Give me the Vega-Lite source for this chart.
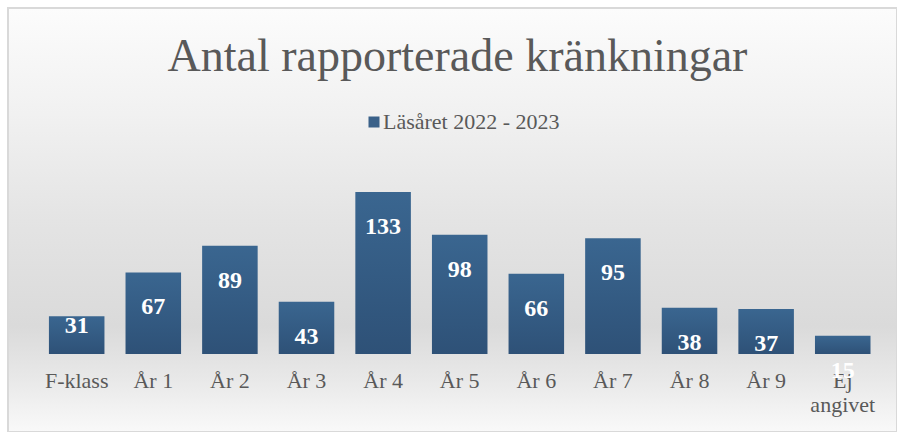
{
  "$schema": "https://vega.github.io/schema/vega-lite/v6.json",
  "autosize": {"type": "none"},
  "width": 889,
  "height": 424,
  "padding": {"left": 8, "top": 8, "right": 0, "bottom": 0},
  "background": "#ffffff",
  "view": {
    "stroke": "#d9d9d9",
    "strokeWidth": 2,
    "fill": {
      "gradient": "linear",
      "x1": 0, "y1": 0, "x2": 0, "y2": 1,
      "stops": [
        {"offset": 0, "color": "#fcfcfc"},
        {"offset": 0.25, "color": "#f1f1f1"},
        {"offset": 0.5, "color": "#e4e4e4"},
        {"offset": 0.75, "color": "#dadada"},
        {"offset": 0.88, "color": "#e9e9e9"},
        {"offset": 1, "color": "#f9f9f9"}
      ]
    }
  },
  "title": {
    "text": "Antal rapporterade kränkningar",
    "font": "Liberation Serif, DejaVu Serif, serif",
    "fontSize": 46,
    "fontWeight": "normal",
    "color": "#595959",
    "anchor": "middle",
    "baseline": "alphabetic",
    "offset": -44,
    "dy": 65,
    "dx": 5
  },
  "data": {
    "values": [
      {"klass": "F-klass", "antal": 31, "serie": "Läsåret 2022 - 2023"},
      {"klass": "År 1", "antal": 67, "serie": "Läsåret 2022 - 2023"},
      {"klass": "År 2", "antal": 89, "serie": "Läsåret 2022 - 2023"},
      {"klass": "År 3", "antal": 43, "serie": "Läsåret 2022 - 2023"},
      {"klass": "År 4", "antal": 133, "serie": "Läsåret 2022 - 2023"},
      {"klass": "År 5", "antal": 98, "serie": "Läsåret 2022 - 2023"},
      {"klass": "År 6", "antal": 66, "serie": "Läsåret 2022 - 2023"},
      {"klass": "År 7", "antal": 95, "serie": "Läsåret 2022 - 2023"},
      {"klass": "År 8", "antal": 38, "serie": "Läsåret 2022 - 2023"},
      {"klass": "År 9", "antal": 37, "serie": "Läsåret 2022 - 2023"},
      {"klass": "Ej angivet", "antal": 15, "serie": "Läsåret 2022 - 2023"}
    ]
  },
  "encoding": {
    "x": {
      "field": "klass",
      "type": "nominal",
      "sort": null,
      "scale": {"paddingInner": 0.275, "paddingOuter": 0.44, "align": 0.607},
      "axis": {
        "title": null,
        "orient": "bottom",
        "offset": -78,
        "domain": false,
        "ticks": false,
        "labelAngle": 0,
        "labelFont": "Liberation Serif, DejaVu Serif, serif",
        "labelFontSize": 22,
        "labelColor": "#595959",
        "labelPadding": 16,
        "labelLineHeight": 24,
        "labelExpr": "datum.value == 'Ej angivet' ? ['Ej', 'angivet'] : datum.value"
      }
    },
    "y": {
      "field": "antal",
      "type": "quantitative",
      "scale": {"domain": [-64, 284.1], "zero": false, "nice": false},
      "axis": null
    }
  },
  "layer": [
    {
      "mark": {
        "type": "bar",
        "color": {
          "gradient": "linear",
          "x1": 0, "y1": 0, "x2": 0, "y2": 1,
          "stops": [
            {"offset": 0, "color": "#3a6690"},
            {"offset": 1, "color": "#2e5177"}
          ]
        }
      },
      "encoding": {
        "y2": {"datum": 0}
      }
    },
    {
      "mark": {"type": "point", "shape": "square", "filled": true, "opacity": 0},
      "encoding": {
        "color": {
          "field": "serie",
          "type": "nominal",
          "scale": {"range": ["#3a6189"]},
          "legend": {
            "title": null,
            "orient": "none",
            "legendX": 355,
            "legendY": 103,
            "padding": 0,
            "symbolType": "square",
            "symbolSize": 121,
            "symbolStrokeWidth": 0,
            "labelFont": "Liberation Serif, DejaVu Serif, serif",
            "labelFontSize": 22,
            "labelColor": "#595959",
            "labelOffset": -2,
            "labelLimit": 400,
            "encode": {
              "symbols": {"update": {"fill": {"value": "#3a6189"}, "opacity": {"value": 1}}}
            }
          }
        }
      }
    },
    {
      "transform": [{"filter": "datum.klass != 'F-klass'"}],
      "mark": {
        "type": "text",
        "font": "Liberation Serif, DejaVu Serif, serif",
        "fontSize": 24,
        "fontWeight": "bold",
        "color": "#ffffff",
        "baseline": "middle",
        "dy": 35
      },
      "encoding": {"text": {"field": "antal", "type": "quantitative"}}
    },
    {
      "transform": [{"filter": "datum.klass == 'F-klass'"}],
      "mark": {
        "type": "text",
        "font": "Liberation Serif, DejaVu Serif, serif",
        "fontSize": 24,
        "fontWeight": "bold",
        "color": "#ffffff",
        "baseline": "middle",
        "dy": 10
      },
      "encoding": {"text": {"field": "antal", "type": "quantitative"}}
    }
  ]
}
